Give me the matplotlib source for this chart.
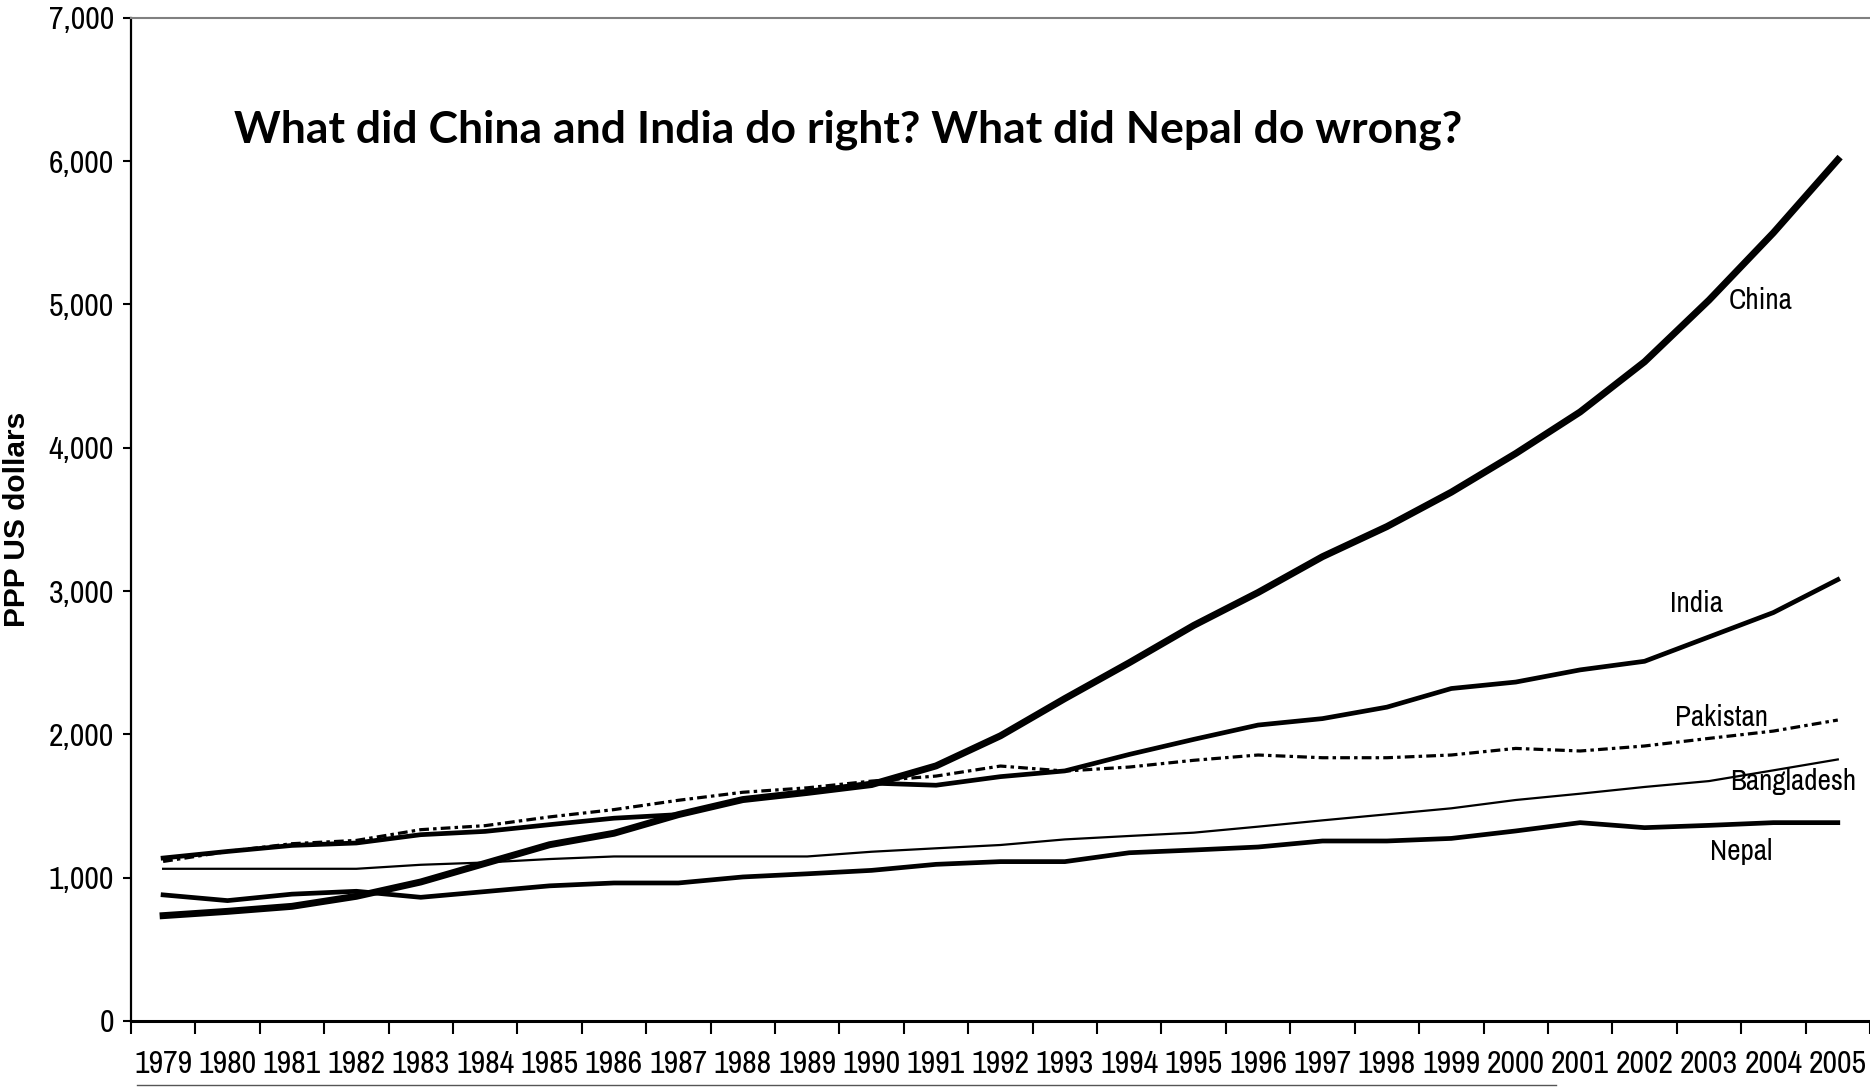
import matplotlib.pyplot as plt
import matplotlib.ticker as mticker
import numpy as np

plt.rcParams['lines.scale_dashes'] = False

years = [str(y) for y in range(1979, 2006)]

china = [735, 765, 800, 870, 970, 1100, 1230, 1310, 1440, 1545, 1595, 1650, 1780,
         1990, 2250, 2500, 2760, 2990, 3240, 3450, 3690, 3960, 4250, 4600, 5030, 5500, 6010]
india = [1137, 1183, 1225, 1242, 1300, 1323, 1370, 1415, 1440, 1545, 1596, 1660, 1645,
         1705, 1745, 1860, 1965, 2065, 2110, 2190, 2320, 2365, 2450, 2510, 2680, 2850, 3080]
pakistan = [1113, 1183, 1237, 1260, 1335, 1363, 1424, 1475, 1540, 1596, 1627, 1674, 1709,
            1779, 1744, 1772, 1819, 1856, 1837, 1837, 1856, 1902, 1884, 1919, 1972, 2023, 2100]
bangladesh = [1062, 1062, 1062, 1062, 1090, 1106, 1130, 1148, 1148, 1148, 1148, 1181, 1205,
              1228, 1267, 1291, 1314, 1356, 1400, 1442, 1484, 1542, 1586, 1633, 1674, 1749, 1825]
nepal = [880, 840, 885, 905, 863, 903, 943, 963, 963, 1005, 1027, 1051, 1093,
         1112, 1112, 1174, 1193, 1214, 1256, 1256, 1274, 1326, 1384, 1349, 1365, 1384, 1384]

# Arial Narrow look-alike, falls back to Liberation Sans
narrow = ['Archivo Narrow', 'Liberation Sans']

fig = plt.figure(figsize=(18.7, 10.88), dpi=100)
ax = fig.add_axes([0.070, 0.0616, 0.930, 0.922])

x = np.arange(len(years))
ax.plot(x, bangladesh, color='black', lw=1.6)
ax.plot(x, nepal, color='black', lw=3.4)
ax.plot(x, pakistan, color='black', lw=2.3, linestyle=(0, (7, 3, 2.5, 3)))
ax.plot(x, india, color='black', lw=3.4)
ax.plot(x, china, color='black', lw=5.0)

# line labels
ax.text(24.8, 5030, 'China', fontsize=21, family=narrow, ha='center', va='center')
ax.text(23.8, 2910, 'India', fontsize=21, family=narrow, ha='center', va='center')
ax.text(24.2, 2120, 'Pakistan', fontsize=21, family=narrow, ha='center', va='center')
ax.text(25.3, 1670, 'Bangladesh', fontsize=21, family=narrow, ha='center', va='center')
ax.text(24.5, 1180, 'Nepal', fontsize=21, family=narrow, ha='center', va='center')

ax.text(0.059, 0.888, 'What did China and India do right? What did Nepal do wrong?',
        transform=ax.transAxes, fontsize=32, fontweight='bold', family='Lato',
        ha='left', va='center')

ax.set_xlim(-0.5, 26.5)
ax.set_ylim(0, 7000)
ax.set_yticks(range(0, 7001, 1000))
ax.yaxis.set_major_formatter(mticker.StrMethodFormatter('{x:,.0f}'))

ax.set_xticks(x)
ax.set_xticklabels(years)
ax.set_xticks(np.arange(-0.5, 27, 1), minor=True)
ax.tick_params(axis='x', which='major', length=0, pad=21)
ax.tick_params(axis='x', which='minor', length=9, width=1.5, direction='out')
ax.tick_params(axis='y', length=6, width=1.5, direction='out', pad=6)
for lab in ax.get_xticklabels() + ax.get_yticklabels():
    lab.set_family(narrow)
    lab.set_fontsize(23)

ax.set_ylabel('PPP US dollars', fontsize=21.5, fontweight='bold', family='Liberation Sans')
ax.yaxis.set_label_coords(-0.0575, 0.5)

ax.spines['right'].set_visible(False)
ax.spines['top'].set_color('#808080')
ax.spines['top'].set_linewidth(1.5)
ax.spines['left'].set_linewidth(1.6)
ax.spines['bottom'].set_linewidth(2.2)

# thin underline below the year labels
fig.add_artist(plt.Line2D([0.073, 0.832], [0.003, 0.003], color='#555555', lw=1.0))

fig.savefig('out.png', dpi=100)
